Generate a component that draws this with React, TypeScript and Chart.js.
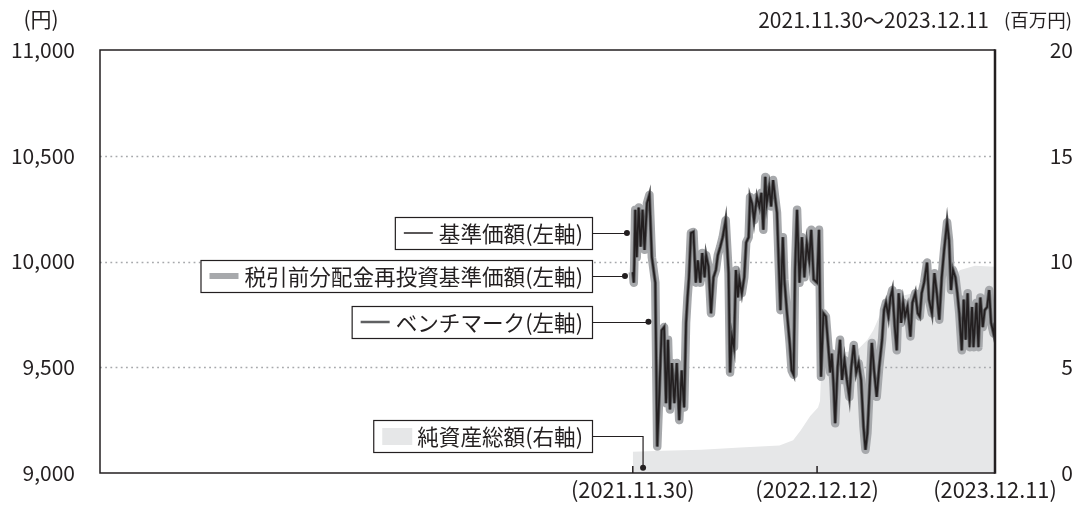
import React, { useEffect, useRef } from 'react';
import { Chart, registerables } from 'chart.js';

Chart.register(...registerables);

// ---- data (days since 2021.11.30) ----
const navDays = [
  0, 2, 3, 5, 8, 12, 16, 20, 24, 29, 34, 39, 46, 50, 54, 59, 64, 68, 72, 76, 80, 85, 90, 95, 100, 105, 109, 112,
  115, 119, 124, 129, 133, 138, 142, 147, 150, 155, 160, 165, 170, 174, 179, 184, 190, 196, 199, 203, 207, 211,
  215, 218, 223, 228, 232, 237, 240, 244, 248, 254, 259, 263, 267, 271, 274, 279, 283, 287, 291, 295, 302, 307,
  310, 315, 321, 325, 329, 332, 336, 341, 346, 351, 356, 361, 365, 370, 377, 381, 385, 390, 395, 400, 404, 407,
  411, 414, 419, 424, 428, 433, 438, 443, 447, 452, 457, 462, 467, 472, 476, 480, 484, 489, 494, 499, 504, 510,
  514, 518, 523, 527, 531, 536, 540, 544, 549, 553, 557, 562, 568, 572, 578, 583, 587, 591, 596, 602, 606, 612,
  617, 622, 627, 632, 637, 643, 647, 651, 655, 660, 664, 668, 673, 677, 681, 685, 689, 694, 697, 703, 707, 711,
  716, 720, 725, 729, 733, 738, 741,
];
const navValues = [
  9950, 9900, 9990, 10245, 10020, 10255, 10070, 10245, 10055, 10275, 10315, 10020, 9900, 9125, 9360, 9675, 9690,
  9330, 9630, 9300, 9520, 9330, 9520, 9250, 9485, 9310, 9710, 9830, 9925, 10135, 10140, 9900, 10005, 9900, 10040,
  9925, 10030, 9975, 9755, 9925, 9960, 10030, 10070, 10115, 10195, 9945, 9475, 9645, 9595, 9960, 9830, 9915, 9850,
  9925, 10090, 10115, 10305, 10275, 10195, 10305, 10260, 10325, 10150, 10400, 10275, 10350, 10260, 10385, 10305,
  10230, 9770, 10115, 9915, 9770, 9615, 9485, 9465, 9960, 10245, 9900, 10115, 9925, 10085, 10005, 10150, 9915,
  9900, 10150, 9455, 9755, 9740, 9595, 9475, 9565, 9405, 9235, 9500, 9630, 9440, 9535, 9440, 9360, 9500, 9605,
  9475, 9520, 9440, 9220, 9110, 9190, 9380, 9615, 9475, 9360, 9500, 9630, 9770, 9805, 9740, 9830, 9865, 9690,
  9580, 9850, 9710, 9805, 9740, 9785, 9645, 9805, 9850, 9755, 9740, 9850, 9900, 9995, 9820, 9755, 9945, 9850,
  9725, 9925, 10055, 10185, 10100, 9865, 9960, 9925, 9850, 9755, 9580, 9820, 9630, 9850, 9595, 9785, 9595, 9805,
  9595, 9830, 9690, 9770, 9785, 9865, 9710, 9660, 9710,
];
// no distributions were paid, so the reinvested NAV coincides with the NAV
const reinvestValues = [...navValues];
const benchmarkValues = [...navValues];

const assetDays = [0, 60, 140, 220, 300, 328, 343, 363, 379, 383, 386, 404, 459, 480, 492, 506, 520, 573, 608, 650, 670, 700, 741];
const assetValues = [1.0, 1.05, 1.1, 1.2, 1.3, 1.55, 2.0, 2.7, 3.1, 3.4, 5.2, 5.6, 5.8, 6.3, 6.75, 7.5, 8.2, 8.5, 8.8, 9.2, 9.6, 9.8, 9.75];

const xMinDay = -1090;
const xMaxDay = 741;
const xTickDays = [0, 377, 741];
const xTickLabels = ['(2021.11.30)', '(2022.12.12)', '(2023.12.11)'];
const leftGridValues = [9500, 10000, 10500];

const legendLabels = ['基準価額(左軸)', '税引前分配金再投資基準価額(左軸)', 'ベンチマーク(左軸)', '純資産総額(右軸)'];
const headerPeriod = '2021.11.30〜2023.12.11';
const leftUnit = '(円)';
const rightUnit = '(百万円)';

// ---- styling ----
const FONT = '"Noto Sans CJK JP", "Noto Sans", sans-serif';
const TEXT = '#231f20';
const NAV_COLOR = '#231f20';
const BENCH_COLOR = '#5f6062';
const REINV_COLOR = '#a7a9ac';
const AREA_COLOR = '#e6e7e8';
const FS = 21;
const LEGEND_FS = 21.6;
const HIDDEN = 'rgba(0,0,0,0)';

// legend annotation layout: leader y (px), dot anchor in data coords
const annotations = [
  { kind: 'line', color: NAV_COLOR, width: 1.5, leaderY: 233, dotDay: -12, dotVal: 10135, axis: 'y' },
  { kind: 'line', color: REINV_COLOR, width: 6, leaderY: 276, dotDay: -16, dotVal: 9931, axis: 'y' },
  { kind: 'line', color: BENCH_COLOR, width: 2.5, leaderY: 322, dotDay: 32, dotVal: 9715, axis: 'y' },
  { kind: 'box', color: AREA_COLOR, width: 0, leaderY: 436, dotDay: 21, dotVal: 0.25, axis: 'y1' },
];

const overlayPlugin = {
  id: 'overlay',
  beforeDatasetDraw(chart: any, args: any) {
    if (args.index !== 2) return;
    const { ctx, chartArea } = chart;
    const ys = chart.scales.y;
    ctx.save();
    ctx.strokeStyle = '#a7a9ac';
    ctx.lineWidth = 1.5;
    ctx.setLineDash([1.8, 3.4]);
    leftGridValues.forEach((v) => {
      const y = Math.round(ys.getPixelForValue(v)) + 0.5;
      ctx.beginPath();
      ctx.moveTo(chartArea.left, y);
      ctx.lineTo(chartArea.right, y);
      ctx.stroke();
    });
    ctx.restore();
  },
  afterDraw(chart: any) {
    const { ctx, chartArea } = chart;
    const xs = chart.scales.x;
    const { left, right, top, bottom } = chartArea;
    ctx.save();
    // frame
    ctx.strokeStyle = TEXT;
    ctx.lineWidth = 1.5;
    ctx.beginPath();
    ctx.moveTo(right, top);
    ctx.lineTo(left, top);
    ctx.lineTo(left, bottom);
    ctx.lineTo(right, bottom);
    ctx.stroke();
    ctx.lineWidth = 2.5;
    ctx.beginPath();
    ctx.moveTo(right, top - 0.75);
    ctx.lineTo(right, bottom + 0.75);
    ctx.stroke();
    // x tick marks
    ctx.lineWidth = 1.5;
    xTickDays.slice(0, 2).forEach((d) => {
      const x = xs.getPixelForValue(d);
      ctx.beginPath();
      ctx.moveTo(x, bottom);
      ctx.lineTo(x, bottom - 7);
      ctx.stroke();
    });
    // header texts
    ctx.fillStyle = TEXT;
    ctx.font = `${FS}px ${FONT}`;
    ctx.textBaseline = 'middle';
    ctx.textAlign = 'center';
    ctx.fillText(leftUnit, 41, 19);
    ctx.textAlign = 'right';
    ctx.fillText(headerPeriod, 989, 20);
    ctx.font = `18.5px ${FONT}`;
    ctx.fillText(rightUnit, 1072, 20);

    // legend annotations
    const boxRight = 592;
    annotations.forEach((a, i) => {
      const label = legendLabels[i];
      ctx.font = `${LEGEND_FS}px ${FONT}`;
      const w = ctx.measureText(label).width;
      const textRight = boxRight - 9;
      const textLeft = textRight - w;
      const markerRight = textLeft - 6;
      const markerLeft = markerRight - 29;
      const boxLeft = markerLeft - 9;
      const h = 32;
      const bt = a.leaderY - h / 2;
      ctx.fillStyle = '#ffffff';
      ctx.fillRect(boxLeft, bt, boxRight - boxLeft, h);
      ctx.strokeStyle = TEXT;
      ctx.lineWidth = 1.2;
      ctx.setLineDash([]);
      ctx.strokeRect(boxLeft + 0.5, bt + 0.5, boxRight - boxLeft, h);
      if (a.kind === 'line') {
        ctx.strokeStyle = a.color;
        ctx.lineWidth = a.width;
        ctx.beginPath();
        ctx.moveTo(markerLeft, a.leaderY);
        ctx.lineTo(markerRight, a.leaderY);
        ctx.stroke();
      } else {
        ctx.fillStyle = a.color;
        ctx.fillRect(markerLeft, a.leaderY - 8, 30, 17);
      }
      ctx.fillStyle = TEXT;
      ctx.textAlign = 'right';
      ctx.textBaseline = 'middle';
      ctx.fillText(label, textRight, a.leaderY + 1);
      const dx = xs.getPixelForValue(a.dotDay);
      const dy = chart.scales[a.axis].getPixelForValue(a.dotVal);
      ctx.strokeStyle = TEXT;
      ctx.lineWidth = 1.2;
      ctx.beginPath();
      ctx.moveTo(boxRight + 0.5, a.leaderY + 0.5);
      ctx.lineTo(dx, a.leaderY + 0.5);
      ctx.lineTo(dx, dy);
      ctx.stroke();
      ctx.fillStyle = TEXT;
      ctx.beginPath();
      ctx.arc(dx, dy, 3, 0, Math.PI * 2);
      ctx.fill();
    });
    ctx.restore();
  },
};

export default function App() {
  const ref = useRef<HTMLCanvasElement | null>(null);
  useEffect(() => {
    if (!ref.current) return;
    const font = { family: FONT, size: FS };
    const chart = new Chart(ref.current, {
      type: 'line',
      data: {
        datasets: [
          {
            label: legendLabels[0],
            data: navDays.map((d, i) => ({ x: d, y: navValues[i] })),
            borderColor: NAV_COLOR,
            borderWidth: 1.7,
            pointRadius: 0,
            tension: 0,
            yAxisID: 'y',
          },
          {
            label: legendLabels[2],
            data: navDays.map((d, i) => ({ x: d, y: benchmarkValues[i] })),
            borderColor: BENCH_COLOR,
            borderWidth: 3.4,
            pointRadius: 0,
            tension: 0,
            yAxisID: 'y',
          },
          {
            label: legendLabels[1],
            data: navDays.map((d, i) => ({ x: d, y: reinvestValues[i] })),
            borderColor: REINV_COLOR,
            borderWidth: 8.5,
            borderJoinStyle: 'round',
            pointRadius: 0,
            tension: 0,
            yAxisID: 'y',
          },
          {
            label: legendLabels[3],
            data: assetDays.map((d, i) => ({ x: d, y: assetValues[i] })),
            borderWidth: 0,
            borderColor: HIDDEN,
            backgroundColor: AREA_COLOR,
            fill: 'origin',
            pointRadius: 0,
            tension: 0,
            yAxisID: 'y1',
          },
        ],
      },
      options: {
        animation: false,
        responsive: false,
        devicePixelRatio: 1,
        layout: { padding: { top: 50, left: 0, right: 0, bottom: 0 } },
        plugins: { legend: { display: false }, tooltip: { enabled: false } },
        scales: {
          x: {
            type: 'linear',
            min: xMinDay,
            max: xMaxDay,
            afterBuildTicks: (s: any) => {
              s.ticks = xTickDays.map((v) => ({ value: v }));
            },
            afterFit: (s: any) => {
              s.height = 32;
            },
            ticks: {
              autoSkip: false,
              maxRotation: 0,
              font: { family: FONT, size: 21.8 },
              color: TEXT,
              padding: 0,
              callback: (v: any) => {
                const i = xTickDays.indexOf(Number(v));
                return i >= 0 ? xTickLabels[i] : '';
              },
            },
            grid: { display: true, drawOnChartArea: false, drawTicks: true, tickLength: 4, color: HIDDEN },
            border: { display: false },
          },
          y: {
            position: 'left',
            min: 9000,
            max: 11000,
            afterFit: (s: any) => {
              s.width = 100;
            },
            ticks: {
              stepSize: 500,
              font,
              color: TEXT,
              padding: 0,
              callback: (v: any) => Number(v).toLocaleString('en-US'),
            },
            grid: { display: true, drawOnChartArea: false, drawTicks: true, tickLength: 25, color: HIDDEN },
            border: { display: false },
          },
          y1: {
            position: 'right',
            min: 0,
            max: 20,
            afterFit: (s: any) => {
              s.width = 78;
            },
            ticks: { stepSize: 5, font, color: TEXT, padding: 0, crossAlign: 'far' },
            grid: { display: true, drawOnChartArea: false, drawTicks: true, tickLength: 23, color: HIDDEN },
            border: { display: false },
          },
        },
      } as any,
      plugins: [overlayPlugin],
    });
    return () => chart.destroy();
  }, []);
  return (
    <div style={{ position: 'absolute', left: 0, top: 0, width: 1073, height: 505, background: '#fff' }}>
      <canvas ref={ref} width={1073} height={505} style={{ display: 'block', width: 1073, height: 505 }} />
    </div>
  );
}
